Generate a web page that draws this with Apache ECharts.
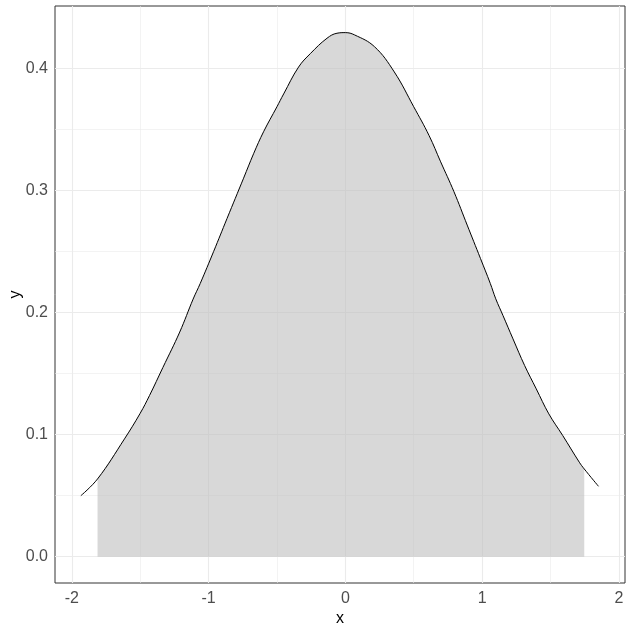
<!DOCTYPE html>
<html>
<head>
<meta charset="utf-8">
<script src="https://cdn.jsdelivr.net/npm/echarts@6/dist/echarts.min.js"></script>
<style>html,body{margin:0;padding:0;background:#fff}#c{width:634px;height:633px}</style>
</head>
<body>
<div id="c"></div>
<script>
// Density curve
const curveX = [-1.934, -1.812, -1.615, -1.5, -1.432, -1.334, -1.211, -1.113, -1.061, -0.963, -0.865, -0.744, -0.671, -0.598, -0.5, -0.451, -0.342, -0.256, -0.134, -0.061, 0, 0.068, 0.213, 0.358, 0.5, 0.612, 0.697, 0.794, 0.891, 0.988, 1.06, 1.1, 1.153, 1.226, 1.311, 1.396, 1.488, 1.59, 1.711, 1.747, 1.851];
const curveY = [0.05, 0.0637, 0.0965, 0.1175, 0.132, 0.155, 0.184, 0.211, 0.2238, 0.25, 0.277, 0.310, 0.330, 0.348, 0.3685, 0.379, 0.401, 0.412, 0.4246, 0.4287, 0.4292, 0.4273, 0.4177, 0.397, 0.3685, 0.345, 0.3234, 0.299, 0.2716, 0.2443, 0.2238, 0.2112, 0.1975, 0.1784, 0.1566, 0.1375, 0.117, 0.0992, 0.0774, 0.0719, 0.0577];
// Shaded interval limits
const shadeFrom = -1.82;
const shadeTo = 1.75;
// Axes
const xRange = [-2.123, 2.045];
const yRange = [-0.0215, 0.451];
const xTicks = [-2, -1, 0, 1, 2];
const xMinor = [-1.5, -0.5, 0.5, 1.5];
const yTicks = [0, 0.1, 0.2, 0.3, 0.4];
const yMinor = [0.05, 0.15, 0.25, 0.35];
const xTitle = 'x';
const yTitle = 'y';

const linePts = curveX.map((x, i) => [x, curveY[i]]);
const areaPts = linePts.filter(p => p[0] >= shadeFrom && p[0] <= shadeTo);

const gridLines = [];
xTicks.forEach(v => gridLines.push({xAxis: v, lineStyle: {width: 1.1}}));
xMinor.forEach(v => gridLines.push({xAxis: v, lineStyle: {width: 0.6}}));
yTicks.forEach(v => gridLines.push({yAxis: v, lineStyle: {width: 1.1}}));
yMinor.forEach(v => gridLines.push({yAxis: v, lineStyle: {width: 0.6}}));

const font = 'Liberation Sans, Arial, sans-serif';
const chart = echarts.init(document.getElementById('c'), null, {renderer: 'canvas'});
chart.setOption({
  animation: false,
  backgroundColor: '#ffffff',
  grid: {left: 55, right: 9, top: 6, bottom: 50, containLabel: false, outerBoundsMode: 'none',
    show: true, borderColor: '#333333', borderWidth: 1, backgroundColor: 'transparent'},
  xAxis: {
    type: 'value', min: xRange[0], max: xRange[1],
    name: xTitle, nameLocation: 'middle', nameGap: 28, nameMoveOverlap: false,
    nameTextStyle: {color: '#000', fontSize: 16, fontFamily: font},
    axisLine: {show: false},
    splitLine: {show: false},
    axisTick: {show: true, length: 4, lineStyle: {color: '#333333'}, customValues: xTicks},
    axisLabel: {customValues: xTicks, color: '#4D4D4D', fontSize: 16, fontFamily: font, margin: 8,
      formatter: v => String(v)}
  },
  yAxis: {
    type: 'value', min: yRange[0], max: yRange[1],
    name: yTitle, nameLocation: 'middle', nameGap: 31, nameMoveOverlap: false,
    nameTextStyle: {color: '#000', fontSize: 16, fontFamily: font},
    axisLine: {show: false},
    splitLine: {show: false},
    axisTick: {show: true, length: 4, lineStyle: {color: '#333333'}, customValues: yTicks},
    axisLabel: {customValues: yTicks, color: '#4D4D4D', fontSize: 16, fontFamily: font, margin: 7,
      formatter: v => v.toFixed(1)}
  },
  series: [
    {
      type: 'line', data: [], silent: true, zlevel: 0, z: 1, symbol: 'none',
      markLine: {silent: true, symbol: 'none', label: {show: false}, animation: false,
        lineStyle: {color: '#EBEBEB', type: 'solid'}, data: gridLines}
    },
    {
      type: 'line', data: areaPts, smooth: 0.4, symbol: 'none', zlevel: 1, z: 2,
      lineStyle: {width: 0}, areaStyle: {color: 'rgb(190,190,190)', opacity: 0.6, origin: 0}
    },
    {
      type: 'line', data: linePts, smooth: 0.4, symbol: 'none', zlevel: 1, z: 3,
      lineStyle: {color: '#000000', width: 1}
    }
  ]
});
</script>
</body>
</html>
